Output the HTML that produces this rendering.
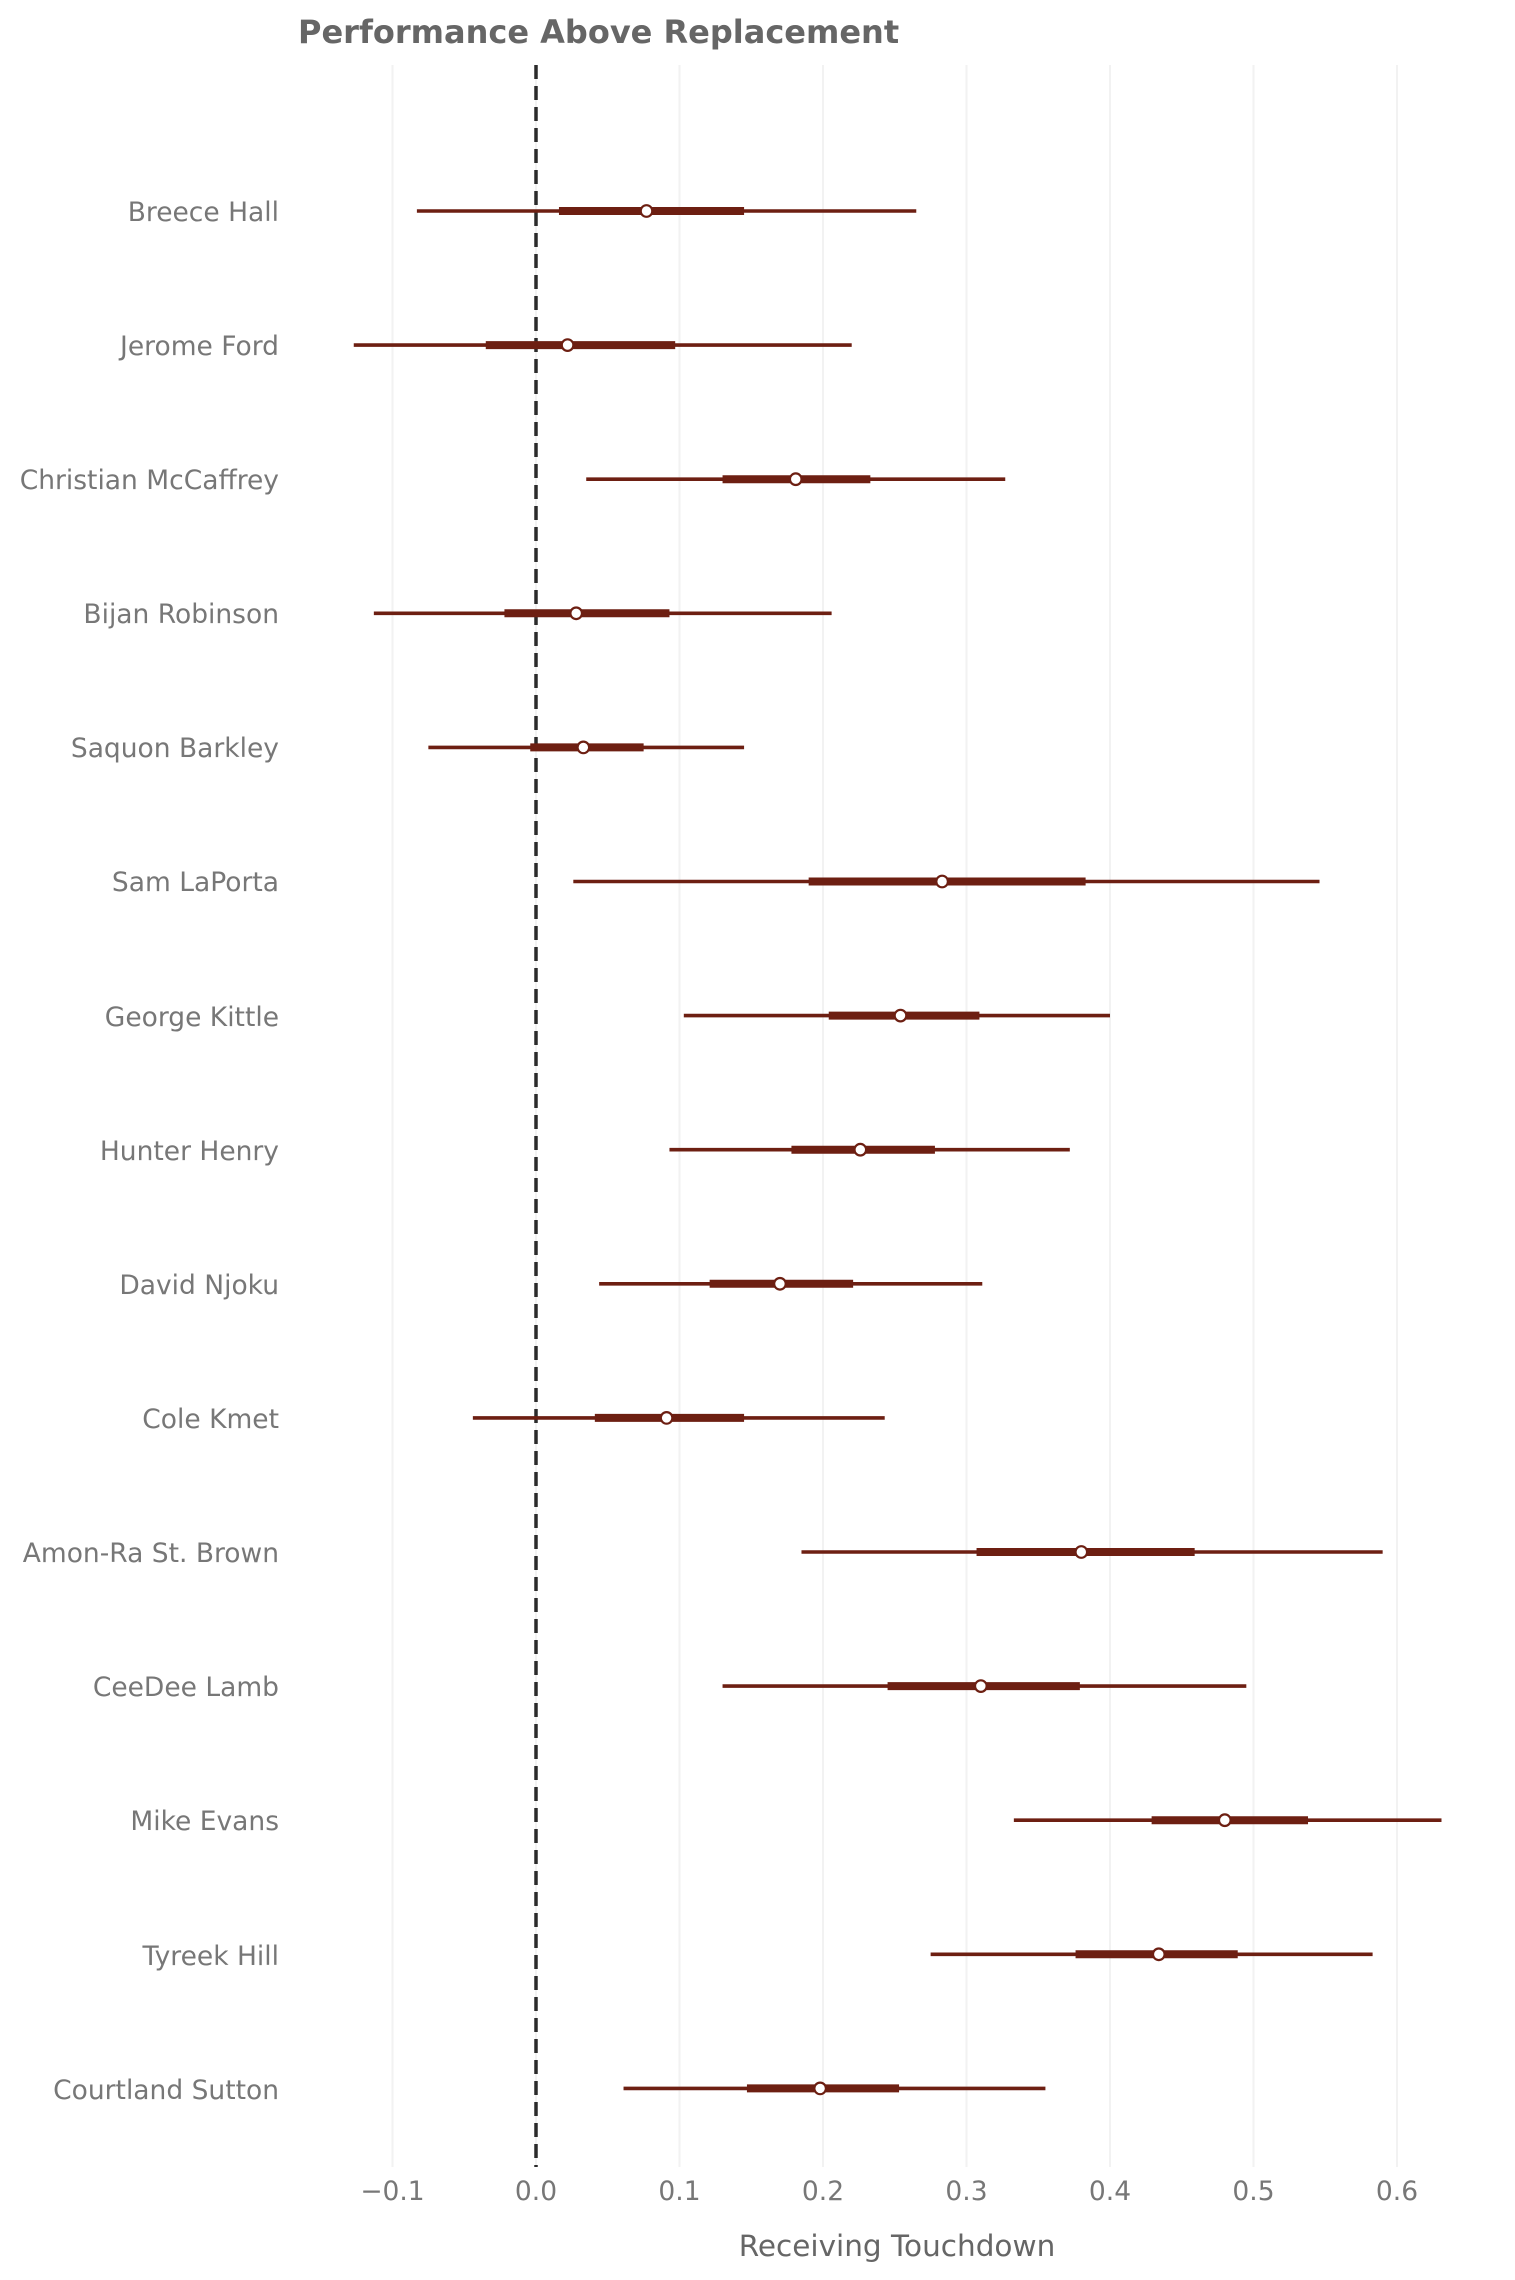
<!DOCTYPE html><html><head><style>body{margin:0;background:#fff}svg{display:block}text{font-family:"DejaVu Sans","Liberation Sans",sans-serif}</style></head><body>
<svg width="1515" height="2280" xmlns="http://www.w3.org/2000/svg">
<g stroke="#f2f2f2" stroke-width="2">
<line x1="392.5" y1="65" x2="392.5" y2="2167"/><line x1="536" y1="65" x2="536" y2="2167"/><line x1="679.5" y1="65" x2="679.5" y2="2167"/><line x1="823" y1="65" x2="823" y2="2167"/><line x1="966.5" y1="65" x2="966.5" y2="2167"/><line x1="1110" y1="65" x2="1110" y2="2167"/><line x1="1253.5" y1="65" x2="1253.5" y2="2167"/><line x1="1397" y1="65" x2="1397" y2="2167"/>
</g>
<line x1="536" y1="65" x2="536" y2="2167" stroke="#2b2b2b" stroke-width="3.5" stroke-dasharray="14,7"/>
<g id="d"></g>
<text x="298" y="43" font-size="32" font-weight="bold" fill="#666">Performance Above Replacement</text>
<g font-size="26.5" fill="#777" text-anchor="end">
<text x="279" y="221">Breece Hall</text>
<text x="279" y="355">Jerome Ford</text>
<text x="279" y="489">Christian McCaffrey</text>
<text x="279" y="623">Bijan Robinson</text>
<text x="279" y="757">Saquon Barkley</text>
<text x="279" y="891">Sam LaPorta</text>
<text x="279" y="1026">George Kittle</text>
<text x="279" y="1160">Hunter Henry</text>
<text x="279" y="1294">David Njoku</text>
<text x="279" y="1428">Cole Kmet</text>
<text x="279" y="1562">Amon-Ra St. Brown</text>
<text x="279" y="1696">CeeDee Lamb</text>
<text x="279" y="1830">Mike Evans</text>
<text x="279" y="1965">Tyreek Hill</text>
<text x="279" y="2099">Courtland Sutton</text>
</g>
<g font-size="26.5" fill="#777" text-anchor="middle">
<text x="392.5" y="2200">−0.1</text><text x="536" y="2200">0.0</text><text x="679.5" y="2200">0.1</text><text x="823" y="2200">0.2</text><text x="966.5" y="2200">0.3</text><text x="1110" y="2200">0.4</text><text x="1253.5" y="2200">0.5</text><text x="1397" y="2200">0.6</text>
</g>
<text x="897" y="2256" font-size="29.5" fill="#666" text-anchor="middle">Receiving Touchdown</text>
</svg>
<script>
var D=[[-.083,.265,.016,.145,.077],[-.127,.22,-.035,.097,.022],[.035,.327,.13,.233,.181],[-.113,.206,-.022,.093,.028],[-.075,.145,-.004,.075,.033],[.026,.546,.19,.383,.283],[.103,.4,.204,.309,.254],[.093,.372,.178,.278,.226],[.044,.311,.121,.221,.17],[-.044,.243,.041,.145,.091],[.185,.59,.307,.459,.38],[.13,.495,.245,.379,.31],[.333,.631,.429,.538,.48],[.275,.583,.376,.489,.434],[.061,.355,.147,.253,.198]];
var s='',X=function(v){return 536+v*1435};
D.forEach(function(d,i){var y=211+i*134.1,c='#6d1f12';
s+='<line x1="'+X(d[0])+'" x2="'+X(d[1])+'" y1="'+y+'" y2="'+y+'" stroke="'+c+'" stroke-width="3.6"/>';
s+='<line x1="'+X(d[2])+'" x2="'+X(d[3])+'" y1="'+y+'" y2="'+y+'" stroke="'+c+'" stroke-width="8"/>';
s+='<circle cx="'+X(d[4])+'" cy="'+y+'" r="5.8" fill="#fff" stroke="'+c+'" stroke-width="2.2"/>';});
document.getElementById('d').innerHTML=s;
</script>
</body></html>
